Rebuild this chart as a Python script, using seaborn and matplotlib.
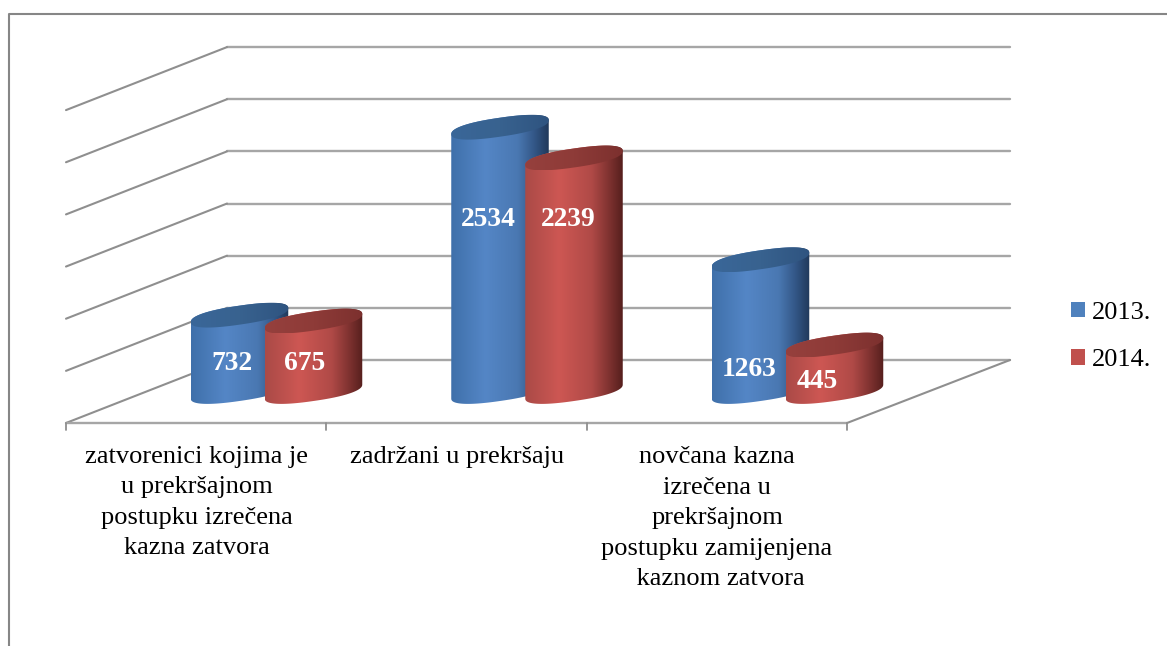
import numpy as np
import pandas as pd
import matplotlib.pyplot as plt
import seaborn as sns
from matplotlib.colors import LinearSegmentedColormap
from matplotlib.patches import Patch

categories = [
    "zatvorenici kojima je\nu prekršajnom\npostupku izrečena\nkazna zatvora",
    "zadržani u prekršaju",
    "novčana kazna\nizrečena u\nprekršajnom\npostupku zamijenjena\n kaznom zatvora",
]
years = ["2013.", "2014."]
values_2013 = [732, 2534, 1263]
values_2014 = [675, 2239, 445]
grid_levels = [0, 500, 1000, 1500, 2000, 2500, 3000]

# pixel layout of the fake 3d chart
W, H = 1167, 646
PX_PER_CAT = 260.5
PX_PER_VAL = 0.1043
CAT0_X, ZERO_Y = 276.5, 391.5
BAR_STEP, BAR_W = 74.0, 97.5
BACK_L, BACK_R, BACK_Y = 227, 1010, 360
FRONT_L, FRONT_R, FRONT_Y = 66, 847, 423

blue, red = "#4f81bd", "#c0504d"
GRID = "#a6a6a6"
LINE = "#8f8f8f"

sns.set_theme(style="white")
plt.rcParams["font.family"] = ["Liberation Serif", "DejaVu Serif"]


def dx(px):
    return (px - CAT0_X) / PX_PER_CAT


def dy(py):
    return (ZERO_Y - py) / PX_PER_VAL


def squircle(t):
    # slightly squared ellipse, the corners of the reference caps are tight
    c, s = np.cos(t), np.sin(t)
    return np.sign(c) * np.abs(c) ** 0.85, np.sign(s) * np.abs(s) ** 0.85


df = pd.DataFrame({
    "category": categories * 2,
    "year": [years[0]] * 3 + [years[1]] * 3,
    "value": values_2013 + values_2014,
})

fig = plt.figure(figsize=(W / 100, H / 100), dpi=100)
ax = fig.add_axes([0, 0, 1, 1])
sns.barplot(
    data=df, x="category", y="value", hue="year", hue_order=years,
    palette=[blue, red], width=2 * BAR_STEP / PX_PER_CAT, legend=False, ax=ax,
)

body_cmaps = {
    blue: LinearSegmentedColormap.from_list("b", [(0, "#3f70aa"), (0.35, "#5486c6"), (0.68, "#4a78b2"), (0.86, "#325585"), (1, "#20395a")]),
    red: LinearSegmentedColormap.from_list("r", [(0, "#aa4a47"), (0.35, "#cd5753"), (0.68, "#b04a47"), (0.86, "#7f3230"), (1, "#551f1d")]),
}
top_cmaps = {
    blue: LinearSegmentedColormap.from_list("bt", ["#3a6799", "#38628f", "#2f5480"]),
    red: LinearSegmentedColormap.from_list("rt", ["#96403d", "#8e3b38", "#7c302e"]),
}
grad = np.linspace(0, 1, 256).reshape(1, -1)
t_low = np.linspace(np.pi, 2 * np.pi, 80)
t_all = np.linspace(0, 2 * np.pi, 160)
skew, b = 7.0, 9.5

bars = list(ax.patches)
for i, p in enumerate(bars):
    color = blue if i < 3 else red
    cx = p.get_x() + p.get_width() / 2
    h = p.get_height()
    p.set_visible(False)
    half = BAR_W / 2 / PX_PER_CAT
    ux, uy = squircle(t_low)
    low_x = cx + half * ux
    low_y = (skew * ux + b * uy) / PX_PER_VAL
    up_x = cx - half * ux
    up_y = h + (-skew * ux - b * uy) / PX_PER_VAL
    xs = np.concatenate([low_x, up_x])
    ys = np.concatenate([low_y, up_y])
    z = 3 + i % 3 * 2 + (0 if i < 3 else 1) * 0.5
    clip = ax.fill(xs, ys, color="none", zorder=z)[0]
    im = ax.imshow(grad, extent=[cx - half, cx + half, ys.min(), ys.max()], aspect="auto",
                   cmap=body_cmaps[color], zorder=z, interpolation="bilinear")
    im.set_clip_path(clip)
    vx, vy = squircle(t_all)
    tx = cx + half * vx
    ty = h + (skew * vx + b * vy) / PX_PER_VAL
    clip2 = ax.fill(tx, ty, color="none", zorder=z + 0.1)[0]
    im2 = ax.imshow(grad, extent=[cx - half, cx + half, ty.min(), ty.max()], aspect="auto",
                    cmap=top_cmaps[color], zorder=z + 0.1, interpolation="bilinear")
    im2.set_clip_path(clip2)

# walls
for v in grid_levels:
    y_back = BACK_Y - v * PX_PER_VAL
    y_front = FRONT_Y - v * PX_PER_VAL
    ax.plot([dx(BACK_L), dx(BACK_R)], [dy(y_back)] * 2, color=GRID, lw=1.7, zorder=1)
    ax.plot([dx(FRONT_L), dx(BACK_L)], [dy(y_front), dy(y_back)], color=LINE, lw=1.5, zorder=1)
ax.plot([dx(FRONT_L), dx(FRONT_R)], [dy(FRONT_Y)] * 2, color=GRID, lw=1.7, zorder=1)
ax.plot([dx(FRONT_R), dx(BACK_R)], [dy(FRONT_Y), dy(BACK_Y)], color=LINE, lw=1.5, zorder=1)
for k in range(4):
    tick_x = FRONT_L + k * (FRONT_R - FRONT_L) / 3
    ax.plot([dx(tick_x)] * 2, [dy(FRONT_Y), dy(FRONT_Y + 7)], color=LINE, lw=1.3, zorder=1)

# outer frame, only top and left show
ax.plot([dx(9), dx(9), dx(W)], [dy(H), dy(14), dy(14)], color="#868686", lw=1.5, zorder=1)

# value labels
label_px = [(232, 364), (488, 219), (749, 370), (305, 363), (568, 219), (817, 381)]
for val, (lx, ly) in zip(values_2013 + values_2014, label_px):
    ax.text(dx(lx), dy(ly), str(val), color="white", fontsize=19.8, fontweight="bold",
            ha="center", va="center", zorder=20)

# category labels
label_cx = [196.5, 457, 717]
for k, cat in enumerate(categories):
    for j, line in enumerate(cat.split("\n")):
        ax.text(dx(label_cx[k]), dy(457 + j * 30.5), line, color="black", fontsize=19,
                ha="center", va="center", zorder=20)

handles = [Patch(facecolor=blue, edgecolor="none", label=years[0]),
           Patch(facecolor=red, edgecolor="none", label=years[1])]
ax.legend(handles=handles, loc="center left", bbox_to_anchor=(1047 / W, 1 - 336.5 / H), frameon=False,
          fontsize=19, handlelength=0.53, handleheight=0.53, handletextpad=0.27,
          labelspacing=0.96, labelcolor="black")

ax.set_xlim(dx(0), dx(W))
ax.set_ylim(dy(H), dy(0))
ax.set_axis_off()
fig.savefig("out.png", dpi=100, facecolor="white")
